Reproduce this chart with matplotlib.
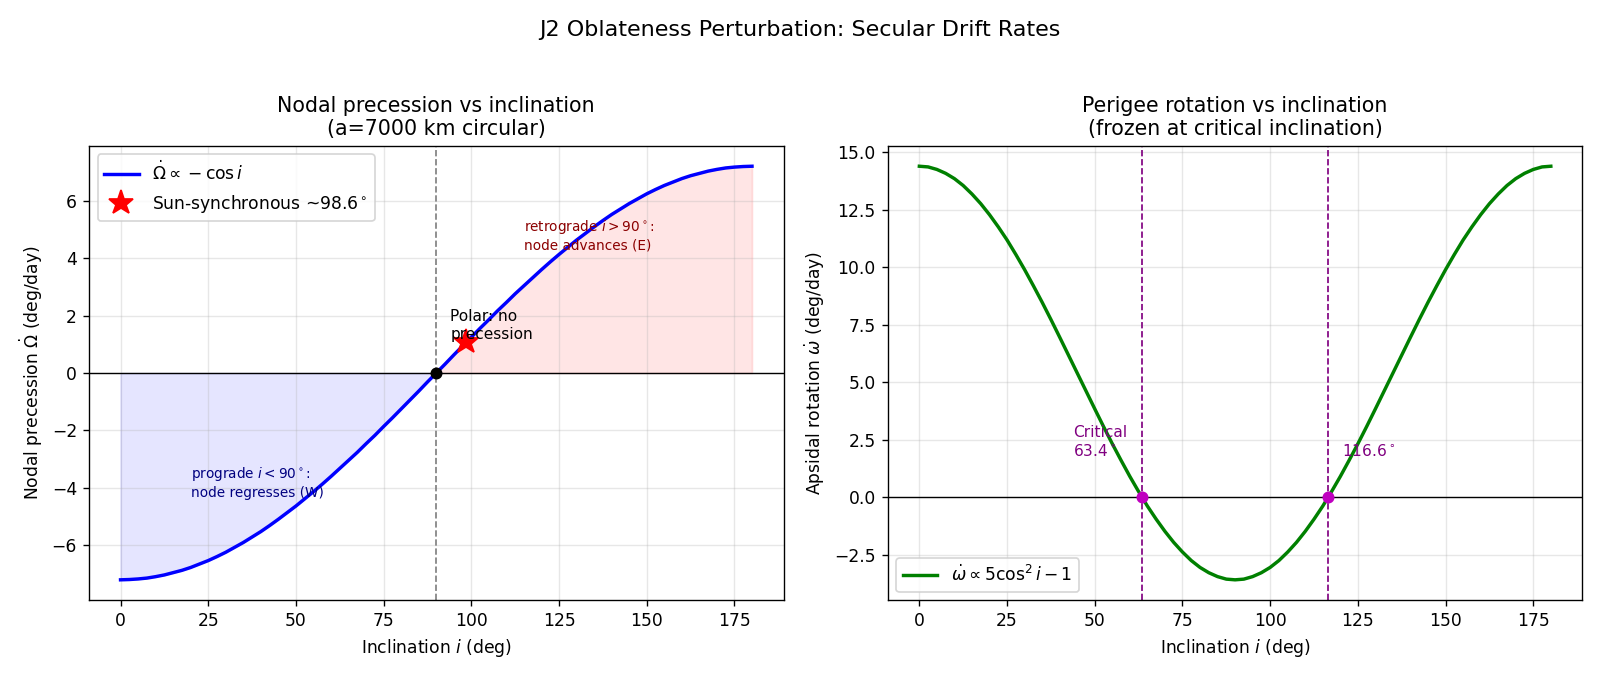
import numpy as np
import matplotlib
matplotlib.use("Agg")
from matplotlib import pyplot as plt

# inclination samples (deg), every 2.5 deg
incl = [k * 2.5 for k in range(73)]

# nodal precession (deg/day), left panel, 0..90 deg (mirrored with sign flip above 90)
node_half = [-7.20, -7.19, -7.17, -7.14, -7.09, -7.03, -6.95, -6.87, -6.77, -6.65,
             -6.53, -6.39, -6.24, -6.07, -5.90, -5.71, -5.52, -5.31, -5.09, -4.86,
             -4.63, -4.38, -4.13, -3.87, -3.60, -3.32, -3.04, -2.76, -2.46, -2.17,
             -1.86, -1.56, -1.25, -0.94, -0.63, -0.31, 0.0]
node_rate = node_half + [-v for v in node_half[-2::-1]]

# apsidal rotation (deg/day), right panel, 0..90 deg (mirrored above 90)
aps_half = [14.40, 14.37, 14.26, 14.09, 13.86, 13.56, 13.19, 12.77, 12.29, 11.76,
            11.19, 10.56, 9.90, 9.20, 8.48, 7.73, 6.96, 6.18, 5.40, 4.62,
            3.84, 3.07, 2.32, 1.60, 0.90, 0.24, -0.39, -0.96, -1.49, -1.97,
            -2.39, -2.76, -3.06, -3.29, -3.46, -3.57, -3.60]
aps_rate = aps_half + aps_half[-2::-1]

sso_incl = 98.6
sso_rate = 1.08
crit_incl = [63.4, 116.6]

x = np.array(incl)
node = np.array(node_rate)
aps = np.array(aps_rate)

dpi = 123
fig, (ax1, ax2) = plt.subplots(1, 2, figsize=(1600 / dpi, 677 / dpi), dpi=dpi)
fig.subplots_adjust(left=0.0556, right=0.989, top=0.785, bottom=0.113, wspace=0.15)
fig.suptitle('J2 Oblateness Perturbation: Secular Drift Rates', fontsize=13, y=0.97)

# left panel
ax1.plot(x, node, color='blue', lw=2, label=r'$\dot{\Omega} \propto -\cos i$')
ax1.fill_between(x, node, 0, where=x <= 90, color='blue', alpha=0.1)
ax1.fill_between(x, node, 0, where=x >= 90, color='red', alpha=0.1)
ax1.axhline(0, color='black', lw=0.8)
ax1.axvline(90, color='gray', ls='--', lw=1)
ax1.plot(sso_incl, sso_rate, '*', color='red', ms=15, label=r'Sun-synchronous ~98.6$^\circ$')
ax1.plot(90, 0, 'ko', ms=6)
ax1.text(94, 1.2, 'Polar: no\nprecession', fontsize=9)
ax1.text(20, -4.3, 'prograde $i<90^\\circ$:\nnode regresses (W)', fontsize=8, color='navy')
ax1.text(115, 4.3, 'retrograde $i>90^\\circ$:\nnode advances (E)', fontsize=8, color='darkred')
ax1.set_xlabel('Inclination $i$ (deg)')
ax1.set_ylabel(r'Nodal precession $\dot{\Omega}$ (deg/day)')
ax1.set_title('Nodal precession vs inclination\n(a=7000 km circular)', fontsize=12)
ax1.grid(alpha=0.3)
ax1.legend(loc='upper left')

# right panel
ax2.plot(x, aps, color='green', lw=2, label=r'$\dot{\omega} \propto 5\cos^2 i - 1$')
ax2.axhline(0, color='black', lw=0.8)
for c in crit_incl:
    ax2.axvline(c, color='purple', ls='--', lw=1)
    ax2.plot(c, 0, 'o', color='m', ms=6)
ax2.text(crit_incl[0] - 19.5, 1.8, 'Critical\n63.4$^\\circ$', fontsize=9, color='purple')
ax2.text(crit_incl[1] + 4, 1.8, '116.6$^\\circ$', fontsize=9, color='purple')
ax2.set_xlabel('Inclination $i$ (deg)')
ax2.set_ylabel(r'Apsidal rotation $\dot{\omega}$ (deg/day)')
ax2.set_title('Perigee rotation vs inclination\n(frozen at critical inclination)', fontsize=12)
ax2.grid(alpha=0.3)
ax2.legend(loc='lower left')

plt.savefig('out.png', dpi=dpi)
